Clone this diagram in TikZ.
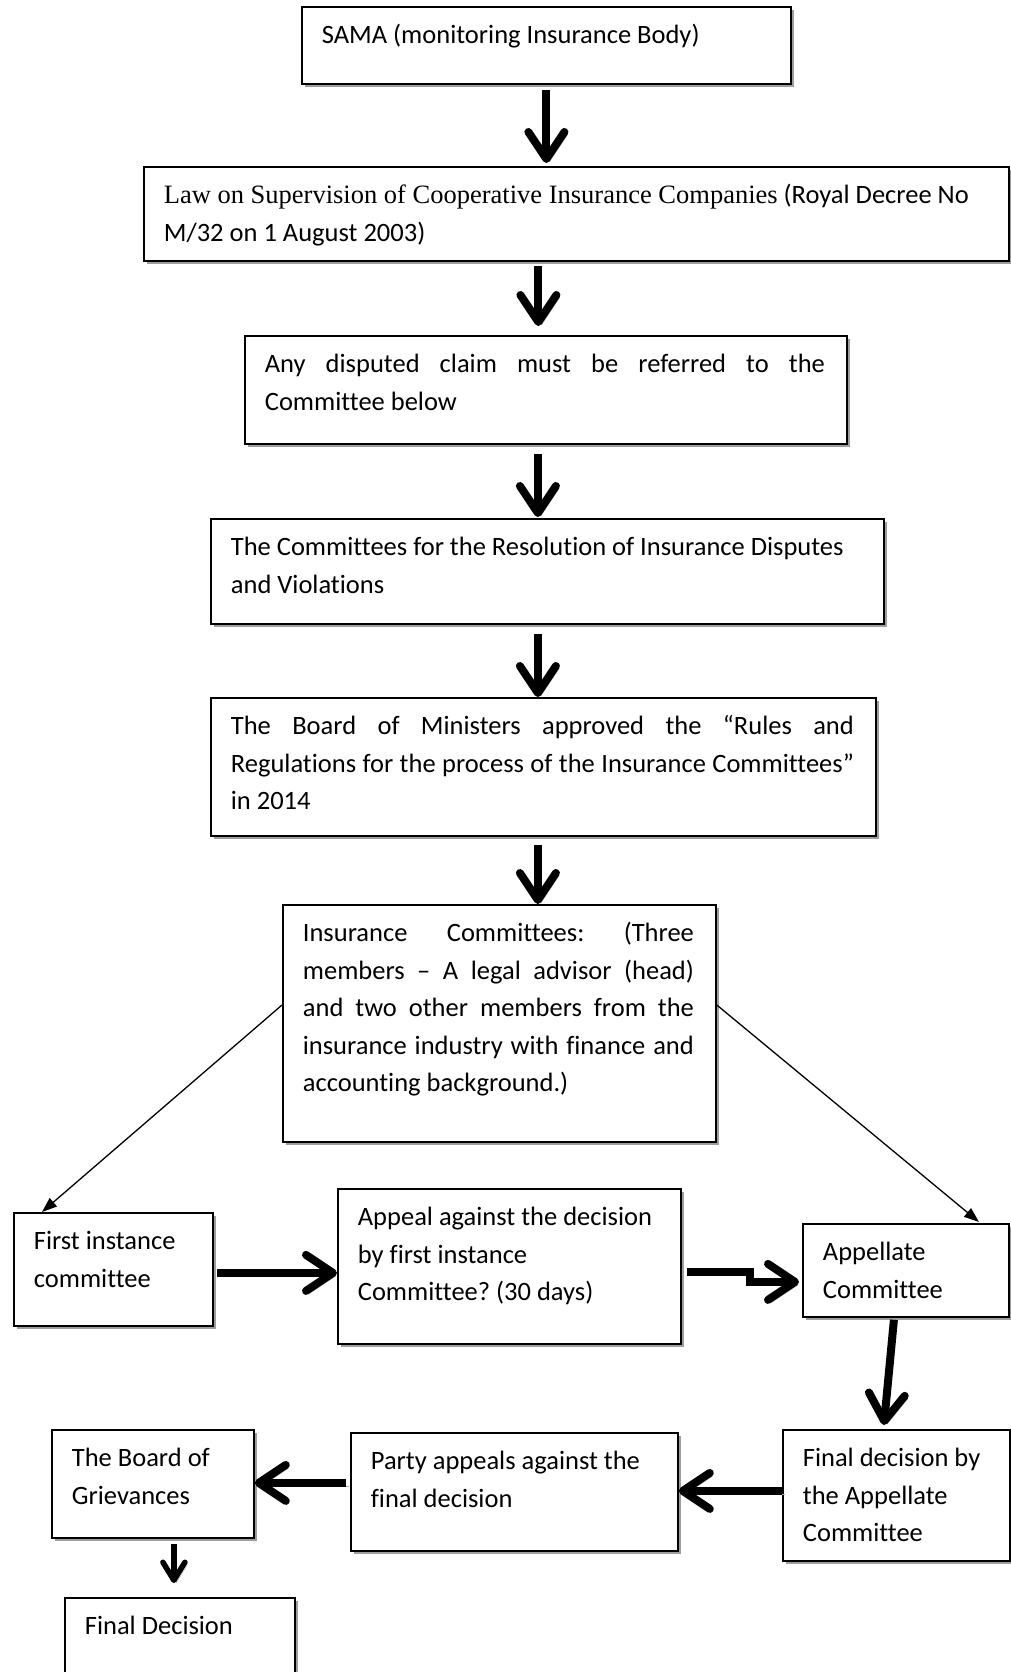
\documentclass[tikz,border=0pt]{standalone}
\usepackage{fontspec}
\setmainfont[Ligatures={NoCommon}]{Carlito}
\newfontfamily\tnrfont{Liberation Serif}
\usetikzlibrary{arrows.meta,shadows,calc}
\frenchspacing
\newcommand\bxtext[4]{\parbox[t][#2][t]{#1}{\frenchspacing\leftskip=20pt\relax\rightskip=#3\relax\rule{0pt}{37pt}#4}}
\begin{document}
\begin{tikzpicture}[x=1pt,y=-1pt,
  every node/.style={font=\fontsize{26.5pt}{37.5pt}\selectfont},
  fbox/.style={draw, line width=1.8pt, fill=white, inner sep=0pt, anchor=north west,
    drop shadow={shadow xshift=3.5pt, shadow yshift=-3.5pt, fill=black!38, opacity=1}},
  bigarrow/.style={line width=8pt, -{Straight Barb[length=27pt,width=36pt,round]},
    preaction={draw=black!32, transform canvas={shift={(3pt,-3pt)}}}},
  smallarrow/.style={line width=5.5pt, -{Straight Barb[length=18pt,width=22pt,round]},
    preaction={draw=black!32, transform canvas={shift={(2.5pt,-2.5pt)}}}},
  thinarrow/.style={line width=1.3pt, -{Triangle[length=15pt,width=11pt]}}]
\fill[white] (0,0) rectangle (1011,1672);
\useasboundingbox (0,0) rectangle (1011,1672);

\node[fbox] (sama) at (301,6) {\bxtext{489pt}{77pt}{20pt}{SAMA (monitoring Insurance Body)}};
\node[fbox] (law) at (143,166) {\bxtext{865pt}{94pt}{0pt}{{\tnrfont Law on Supervision of Cooperative Insurance Companies} (Royal Decree No\\ M/32 on 1 August 2003)}};
\node[fbox] (disp) at (244,335) {\bxtext{602pt}{108pt}{22pt}{Any disputed claim must be referred to the\linebreak Committee below}};
\node[fbox] (cmte) at (210,518) {\bxtext{673pt}{105pt}{8pt}{The Committees for the Resolution of Insurance Disputes\\ and Violations}};
\node[fbox] (board) at (210,697) {\bxtext{665pt}{138pt}{22pt}{The Board of Ministers approved the “Rules and\linebreak Regulations for the process of the Insurance Committees”\linebreak in 2014}};
\node[fbox] (ins) at (282,904) {\bxtext{433pt}{237pt}{22pt}{Insurance Committees: (Three\linebreak members – A legal advisor (head)\linebreak and two other members from the\linebreak insurance industry with finance and\linebreak accounting background.)}};
\node[fbox] (first) at (13,1212) {\bxtext{199pt}{113pt}{5pt}{First instance\\ committee}};
\node[fbox] (appeal) at (337,1188) {\bxtext{343pt}{155pt}{5pt}{Appeal against the decision\\ by first instance\\ Committee? (30 days)}};
\node[fbox] (appel) at (802,1223) {\bxtext{206pt}{93pt}{5pt}{Appellate\\ Committee}};
\node[fbox] (fdec) at (782,1429) {\bxtext{227pt}{131pt}{5pt}{Final decision by\\ the Appellate\\ Committee}};
\node[fbox] (party) at (350,1432) {\bxtext{327pt}{118pt}{5pt}{Party appeals against the\\ final decision}};
\node[fbox] (griev) at (51,1429) {\bxtext{202pt}{108pt}{5pt}{The Board of\\ Grievances}};
\node[fbox] (final) at (64,1597) {\bxtext{230pt}{100pt}{5pt}{Final Decision}};

% vertical main arrows
\draw[bigarrow] ($(sama.south)+(0,5)$) -- ($(sama.south |- law.north)+(0,-3)$);
\draw[bigarrow] ($(law.south)+(-38,4)$) -- ($(law.south |- disp.north)+(-38,-9)$);
\draw[bigarrow] ($(disp.south)+(-8,9)$) -- ($(disp.south |- cmte.north)+(-8,-1)$);
\draw[bigarrow] ($(cmte.south)+(-9.5,9)$) -- ($(cmte.south |- board.north)+(-9.5,0)$);
\draw[bigarrow] ($(board.south)+(-5.5,8)$) -- ($(board.south |- ins.north)+(-5.5,0)$);

% thin arrows from insurance committees
\draw[thinarrow] ($(ins.north west)+(0,101)$) -- ($(first.north west)+(29,0)$);
\draw[thinarrow] ($(ins.north east)+(0,101)$) -- ($(appel.north west)+(177,-1)$);

% lateral arrows
\coordinate (t1s) at ($(first.east)+(3,3.5)$);
\draw[bigarrow] (t1s) -- (t1s -| appeal.west);
\coordinate (t2s) at ($(appeal.east)+(5,5.5)$);
\coordinate (t2e) at ($(appel.west)+(-3,11.5)$);
\draw[bigarrow] (t2s) -- ++(63,0) |- (t2e);
\draw[bigarrow] ($(appel.south)+(-12,2)$) -- ($(fdec.north)+(-12.5,-4)$);
\coordinate (t4s) at ($(fdec.west)+(0,-4.5)$);
\draw[bigarrow] (t4s) -- (t4s -| party.east);
\coordinate (t5s) at ($(party.west)+(-4,-9)$);
\draw[bigarrow] (t5s) -- (t5s -| griev.east);
\coordinate (t6s) at ($(griev.south)+(21,5)$);
\draw[smallarrow, shorten >=14pt] (t6s) -- (t6s |- final.north);
\end{tikzpicture}
\end{document}
